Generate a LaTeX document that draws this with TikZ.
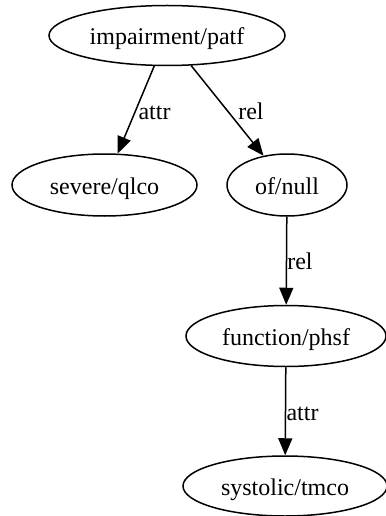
\documentclass[tikz,border=0pt]{standalone}
\usepackage{fontspec}
\setmainfont{Liberation Serif}
\usetikzlibrary{shapes.geometric,arrows.meta}
\begin{document}
\begin{tikzpicture}[x=1pt,y=-1pt,
  concept/.style={ellipse,draw,line width=1.5pt,inner sep=0pt,
    font=\fontsize{24}{28}\selectfont,text height=19pt,text depth=0pt},
  link/.style={draw,line width=1.5pt,-{Triangle[length=17pt,width=14pt]}},
  tag/.style={font=\fontsize{24}{28}\selectfont,inner sep=0pt,text height=20pt,text depth=0pt}]
\useasboundingbox (0,0) rectangle (385,516);
\node[concept,minimum width=236pt,minimum height=60pt] (imp) at (167,35.5) {impairment/patf};
\node[concept,minimum width=185pt,minimum height=62pt] (sev) at (104.5,185) {severe/qlco};
\node[concept,minimum width=120pt,minimum height=62pt] (of) at (287,185) {of/null};
\node[concept,minimum width=200pt,minimum height=61pt] (fun) at (286,336) {function/phsf};
\node[concept,minimum width=204pt,minimum height=60pt] (sys) at (285,486) {systolic/tmco};
\draw[link] (imp) -- (sev);
\draw[link] (imp) -- (of);
\draw[link] (of) -- (fun);
\draw[link] (fun) -- (sys);
\node[tag] (l1) at (154.5,110) {attr};
\node[tag] (l2) at (251,110) {rel};
\node[tag] (l3) at (300,259) {rel};
\node[tag] (l4) at (302.5,410) {attr};
\end{tikzpicture}
\end{document}
